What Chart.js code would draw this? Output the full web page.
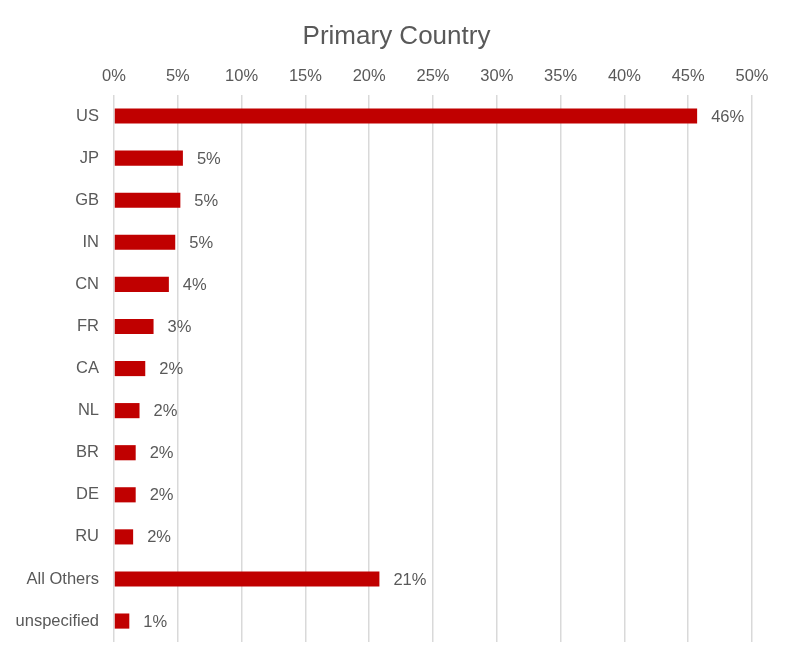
<!DOCTYPE html>
<html>
<head>
<meta charset="utf-8">
<script src="https://cdn.jsdelivr.net/npm/chart.js@4"></script>
<style>
    html, body { margin: 0; padding: 0; background: #ffffff; }
    #wrap { width: 793px; height: 667px; }
</style>
</head>
<body>
<div id="wrap"><canvas id="chart" width="793" height="667"></canvas></div>
<script>
// ── Data ────────────────────────────────────────────────────────

const countries = ['US', 'JP', 'GB', 'IN', 'CN', 'FR', 'CA', 'NL', 'BR', 'DE', 'RU', 'All Others', 'unspecified'];
const shares = [45.7, 5.4, 5.2, 4.8, 4.3, 3.1, 2.45, 2.0, 1.7, 1.7, 1.5, 20.8, 1.2];
const axisTicks = [0, 5, 10, 15, 20, 25, 30, 35, 40, 45, 50];
const chartTitle = 'Primary Country';

const TEXT = '#595959';
const FONT = "'Liberation Sans', Arial, sans-serif";

// ── Title centred on the whole canvas + value labels ────────────

const titleAndLabels = {
    id: 'titleAndLabels',
    afterDraw(chart) {
        const { ctx } = chart;
        ctx.save();
        ctx.font = `26px ${FONT}`;
        ctx.fillStyle = TEXT;
        ctx.textAlign = 'center';
        ctx.textBaseline = 'middle';
        ctx.fillText(chartTitle, chart.width / 2, 37);
        ctx.restore();
    },
    afterDatasetsDraw(chart) {
        const { ctx } = chart;
        const meta = chart.getDatasetMeta(0);
        ctx.save();
        ctx.font = `16.5px ${FONT}`;
        ctx.fillStyle = TEXT;
        ctx.textAlign = 'left';
        ctx.textBaseline = 'middle';
        meta.data.forEach((bar, i) => {
            ctx.fillText(`${Math.round(shares[i])}%`, bar.x + 14, bar.y + 1);
        });
        ctx.restore();
    }
};

new Chart(document.getElementById('chart'), {
    type: 'bar',
    data: {
        labels: countries,
        datasets: [{
            data: shares,
            backgroundColor: '#C00000',
            borderWidth: 0,
            barPercentage: 0.36,
            categoryPercentage: 1,
        }],
    },
    options: {
        indexAxis: 'y',
        responsive: false,
        animation: false,
        layout: { padding: { left: 0, right: 41, top: 51, bottom: 23 } },
        plugins: {
            legend: { display: false },
            tooltip: { enabled: false },
            title: { display: false },
        },
        scales: {
            x: {
                position: 'top',
                min: 0,
                max: 50,
                afterBuildTicks: (scale) => { scale.ticks = axisTicks.map(v => ({ value: v })); },
                afterFit: (scale) => { scale.height = 44; },
                grid: { color: '#d9d9d9', lineWidth: 1.5, drawTicks: false },
                border: { display: false },
                ticks: {
                    padding: 9,
                    color: TEXT,
                    font: { family: FONT, size: 16.5 },
                    callback: (v) => `${v}%`,
                },
            },
            y: {
                afterFit: (scale) => { scale.width = 114; },
                grid: { display: false, drawTicks: false },
                border: { display: false },
                ticks: {
                    padding: 15,
                    color: TEXT,
                    font: { family: FONT, size: 16.5 },
                },
            },
        },
    },
    plugins: [titleAndLabels],
});
</script>
</body>
</html>
